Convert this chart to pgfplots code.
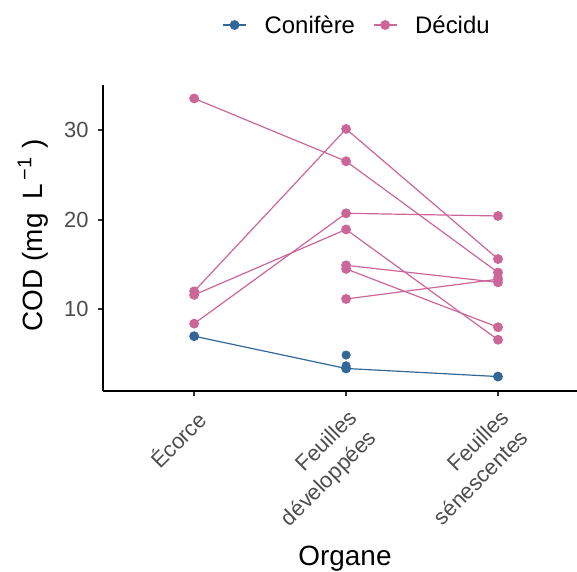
\documentclass[border=0pt]{standalone}
\usepackage{fontspec}
\setmainfont{Liberation Sans}
\usepackage{pgfplots}
\pgfplotsset{compat=1.18}
\definecolor{conif}{RGB}{51,102,153}
\definecolor{decid}{RGB}{204,102,153}
\definecolor{ticklab}{RGB}{77,77,77}
\definecolor{tickcol}{RGB}{51,51,51}
\begin{document}
\begin{tikzpicture}
\useasboundingbox (-103bp,-181bp) rectangle (474bp,391bp);
\begin{axis}[
  at={(0,0)}, anchor=south west,
  scale only axis, width=474bp, height=306bp,
  xmin=-0.6, xmax=2.52, ymin=0.89, ymax=35.0,
  axis lines=left, axis line style={-, line width=1.9bp, black},
  tick align=outside, major tick length=5bp,
  tick style={line width=1.9bp, color=tickcol},
  xtick={0,1,2},
  xticklabels={Écorce, Feuilles\\développées, Feuilles\\sénescentes},
  ytick={10,20,30}, yticklabels={10,20,30},
  x tick label style={rotate=45, anchor=north east, align=right, font=\fontsize{22}{28}\selectfont, text=ticklab, inner sep=1bp, xshift=-7bp, yshift=-8bp},
  y tick label style={font=\fontsize{22}{24}\selectfont, text=ticklab, xshift=-6bp},
  legend style={at={(0.536,1.196)}, anchor=center, draw=none, fill=none,
    font=\fontsize{24}{26}\selectfont,
    /tikz/every odd column/.append style={column sep=16bp},
    /tikz/every even column/.append style={column sep=16bp}},
  legend columns=2,
  legend cell align=left,
  legend image code/.code={\draw[mark repeat=2, mark phase=2] plot coordinates {(0bp,0bp) (11.5bp,0bp) (23bp,0bp)};},
  clip=false,
]
% Conifère
\addplot[color=conif, line width=1.2bp, mark=*, mark size=4.3bp, mark options={solid}] coordinates {(0,7.0) (1,3.4) (2,2.5)};
\addlegendentry{Conifère}
% Décidu
\addplot[color=decid, line width=1.2bp, mark=*, mark size=4.3bp] coordinates {(0,33.5) (1,26.5) (2,14.1)};
\addlegendentry{Décidu}
\addplot[forget plot, color=decid, line width=1.2bp, mark=*, mark size=4.3bp] coordinates {(0,12.0) (1,30.1) (2,15.6)};
\addplot[forget plot, color=decid, line width=1.2bp, mark=*, mark size=4.3bp] coordinates {(0,11.6) (1,18.9) (2,6.6)};
\addplot[forget plot, color=decid, line width=1.2bp, mark=*, mark size=4.3bp] coordinates {(0,8.4) (1,20.7) (2,20.4)};
\addplot[forget plot, color=decid, line width=1.2bp, mark=*, mark size=4.3bp] coordinates {(1,14.9) (2,13.0)};
\addplot[forget plot, color=decid, line width=1.2bp, mark=*, mark size=4.3bp] coordinates {(1,14.5) (2,8.0)};
\addplot[forget plot, color=decid, line width=1.2bp, mark=*, mark size=4.3bp] coordinates {(1,11.15) (2,13.35)};
\addplot[forget plot, only marks, color=decid, mark=*, mark size=4.3bp] coordinates {(2,13.65)};
\addplot[forget plot, only marks, color=conif, mark=*, mark size=4.3bp] coordinates {(1,4.9) (1,3.7)};
\end{axis}
\node[rotate=90, anchor=base, font=\fontsize{28}{30}\selectfont] at (-60bp,156bp) {COD (mg\hspace{0.5em}L\hspace{0.12em}\raisebox{0.42em}{\fontsize{20}{20}\selectfont −1}\hspace{0.35em})};
\node[anchor=base, font=\fontsize{28}{30}\selectfont] at (242bp,-174bp) {Organe};
\end{tikzpicture}
\end{document}
